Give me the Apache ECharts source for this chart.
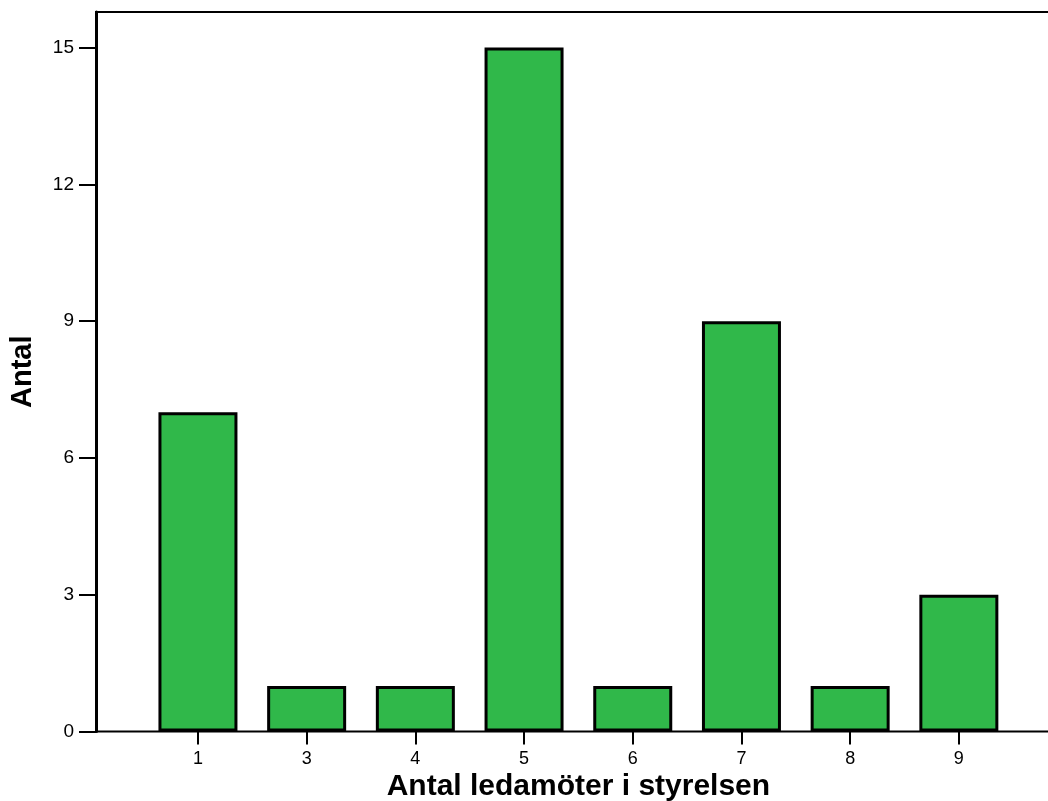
<!DOCTYPE html>
<html>
<head>
<meta charset="utf-8">
<script src="https://cdn.jsdelivr.net/npm/echarts@6/dist/echarts.min.js"></script>
<style>
html,body{margin:0;padding:0;background:#fff;}
#chart{width:1048px;height:801px;}
</style>
</head>
<body>
<div id="chart"></div>
<script>
const categories = ['1', '3', '4', '5', '6', '7', '8', '9'];
const counts = [7, 1, 1, 15, 1, 9, 1, 3];
const yTicks = [0, 3, 6, 9, 12, 15];
const xTitle = 'Antal ledamöter i styrelsen';
const yTitle = 'Antal';

const FONT = '"Liberation Sans", Arial, Helvetica, sans-serif';
const Y_MAX = 15.78;
const chart = echarts.init(document.getElementById('chart'), null, {renderer: 'canvas'});

chart.setOption({
  animation: false,
  backgroundColor: '#ffffff',
  grid: [
    {left: 96, top: 12, right: -10, bottom: 69.5, show: true, borderColor: '#000', borderWidth: 2, backgroundColor: 'transparent', containLabel: false, outerBoundsMode: 'none'},
    {left: 143.6, width: 869.6, top: 12, bottom: 69.5, containLabel: false, outerBoundsMode: 'none'}
  ],
  xAxis: [
    {gridIndex: 0, type: 'value', min: 0, max: 1, show: false},
    {
      gridIndex: 1, type: 'category', data: categories,
      axisLine: {show: false},
      axisTick: {show: true, alignWithLabel: true, length: 13, lineStyle: {color: '#000', width: 2}},
      axisLabel: {color: '#000', fontFamily: FONT, fontSize: 18, margin: 19},
      splitLine: {show: false},
      name: xTitle, nameLocation: 'middle', nameGap: 40, nameMoveOverlap: false,
      nameTextStyle: {color: '#000', fontFamily: FONT, fontWeight: 'bold', fontSize: 30}
    }
  ],
  yAxis: [
    {
      gridIndex: 0, type: 'value', min: 0, max: Y_MAX,
      axisLine: {show: true, lineStyle: {color: '#000', width: 3}},
      axisTick: {show: true, length: 17, customValues: yTicks, lineStyle: {color: '#000', width: 2}},
      axisLabel: {color: '#000', fontFamily: FONT, fontSize: 19, margin: 22, customValues: yTicks},
      splitLine: {show: false},
      name: yTitle, nameLocation: 'middle', nameGap: 59, nameRotate: 90, nameMoveOverlap: false,
      nameTextStyle: {color: '#000', fontFamily: FONT, fontWeight: 'bold', fontSize: 29}
    },
    {gridIndex: 1, type: 'value', min: 0, max: Y_MAX, show: false}
  ],
  series: [{
    type: 'bar',
    xAxisIndex: 1, yAxisIndex: 1,
    data: counts,
    barWidth: 79,
    itemStyle: {color: '#30b84a', borderColor: '#000', borderWidth: 3}
  }]
});
</script>
</body>
</html>
